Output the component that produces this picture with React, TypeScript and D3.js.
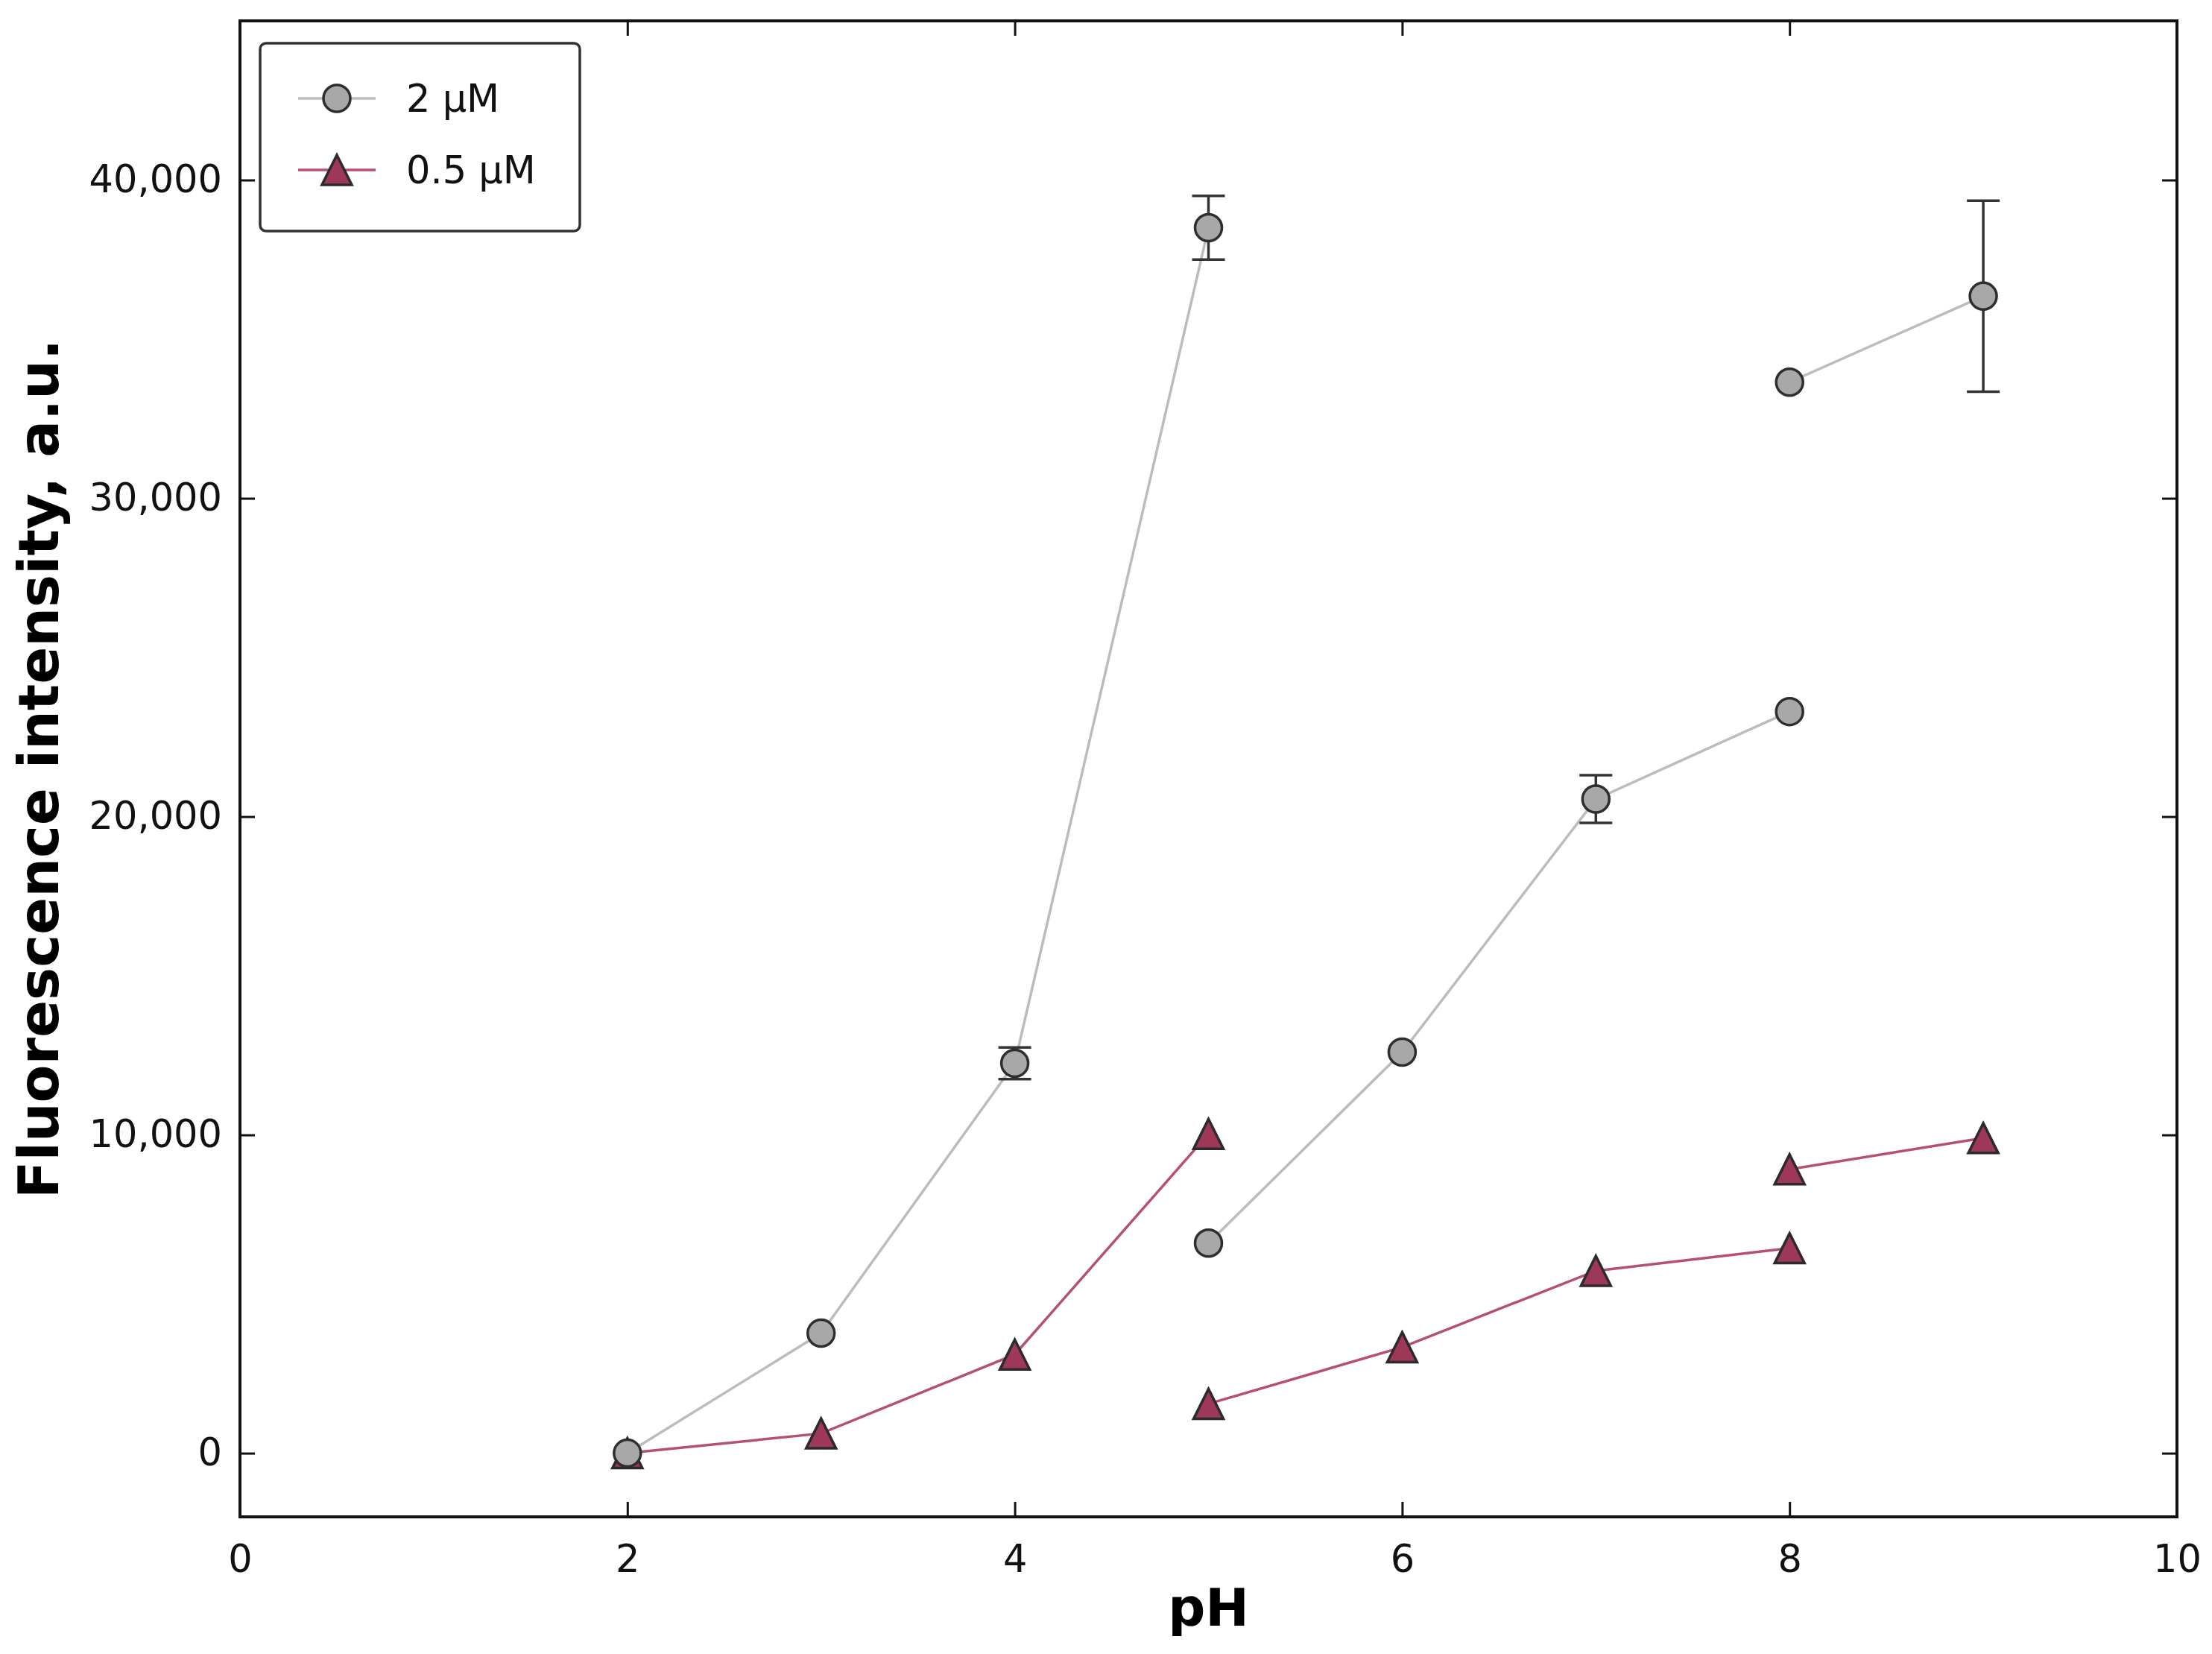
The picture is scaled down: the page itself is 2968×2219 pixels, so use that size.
import { useEffect, useRef } from "react";
import * as d3 from "d3";

const xTicks = [0, 2, 4, 6, 8, 10];
const yTicks = [0, 10000, 20000, 30000, 40000];

// 2 µM — three separate runs (x = pH)
const phHighA = [2, 3, 4, 5];
const valHighA = [0, 3770, 12250, 38500];
const errHighA = [0, 0, 500, 1000];
const phHighB = [5, 6, 7, 8];
const valHighB = [6600, 12600, 20550, 23300];
const errHighB = [0, 0, 750, 0];
const phHighC = [8, 9];
const valHighC = [33650, 36350];
const errHighC = [0, 3000];

// 0.5 µM — three separate runs
const phLowA = [2, 3, 4, 5];
const valLowA = [0, 620, 3100, 10030];
const phLowB = [5, 6, 7, 8];
const valLowB = [1550, 3330, 5730, 6440];
const phLowC = [8, 9];
const valLowC = [8920, 9900];

const legendLabels = ["2 µM", "0.5 µM"];

const W = 2968;
const H = 2219;
const FONT = "'DejaVu Sans', sans-serif";

type Pt = { x: number; y: number; e: number };

const zip = (xs: number[], ys: number[], es?: number[]): Pt[] =>
  xs.map((x, i) => ({ x, y: ys[i], e: es ? es[i] : 0 }));

export default function App() {
  const svgRef = useRef<SVGSVGElement | null>(null);

  useEffect(() => {
    if (!svgRef.current) return;
    const svg = d3.select(svgRef.current);
    svg.selectAll("*").remove();

    const left = 322;
    const right = 2921;
    const top = 28;
    const bottom = 2035;
    const tickLen = 20;

    const x = d3.scaleLinear().domain([0, 10]).range([left, right]);
    const y = d3.scaleLinear().domain([-2000, 45000]).range([bottom, top]);

    svg.append("rect").attr("width", W).attr("height", H).attr("fill", "#fff");

    const line = d3
      .line<Pt>()
      .x((d) => x(d.x))
      .y((d) => y(d.y));

    const circleR = 18;
    const triHalf = 20;
    const triPath = `M0,${-triHalf}L${triHalf},${triHalf}L${-triHalf},${triHalf}Z`;

    const lowRuns = [
      zip(phLowA, valLowA),
      zip(phLowB, valLowB),
      zip(phLowC, valLowC),
    ];
    const highRuns = [
      zip(phHighA, valHighA, errHighA),
      zip(phHighB, valHighB, errHighB),
      zip(phHighC, valHighC, errHighC),
    ];

    const plot = svg.append("g");

    // 0.5 µM series
    lowRuns.forEach((run) => {
      plot
        .append("path")
        .datum(run)
        .attr("fill", "none")
        .attr("stroke", "#b5516d")
        .attr("stroke-width", 3.5)
        .attr("d", line);
    });
    lowRuns.forEach((run) => {
      plot
        .selectAll(null)
        .data(run)
        .enter()
        .append("path")
        .attr("d", triPath)
        .attr("transform", (d) => `translate(${x(d.x)},${y(d.y)})`)
        .attr("fill", "#9e3858")
        .attr("stroke", "#2b2b2b")
        .attr("stroke-width", 3.5)
        .attr("stroke-linejoin", "miter");
    });

    // 2 µM series
    highRuns.forEach((run) => {
      plot
        .append("path")
        .datum(run)
        .attr("fill", "none")
        .attr("stroke", "#bcbcbc")
        .attr("stroke-width", 3.5)
        .attr("d", line);
    });
    highRuns.forEach((run) => {
      const eb = run.filter((d) => d.e > 0);
      const g = plot.selectAll(null).data(eb).enter().append("g");
      g.append("line")
        .attr("x1", (d) => x(d.x))
        .attr("x2", (d) => x(d.x))
        .attr("y1", (d) => y(d.y - d.e))
        .attr("y2", (d) => y(d.y + d.e))
        .attr("stroke", "#333")
        .attr("stroke-width", 3.5);
      [1, -1].forEach((s) => {
        g.append("line")
          .attr("x1", (d) => x(d.x) - 22)
          .attr("x2", (d) => x(d.x) + 22)
          .attr("y1", (d) => y(d.y + s * d.e))
          .attr("y2", (d) => y(d.y + s * d.e))
          .attr("stroke", "#333")
          .attr("stroke-width", 3.5);
      });
    });
    highRuns.forEach((run) => {
      plot
        .selectAll(null)
        .data(run)
        .enter()
        .append("circle")
        .attr("cx", (d) => x(d.x))
        .attr("cy", (d) => y(d.y))
        .attr("r", circleR)
        .attr("fill", "#a8a8a8")
        .attr("stroke", "#2e2e2e")
        .attr("stroke-width", 3.5);
    });

    // AXES (ticks inward on all four sides)
    const fmt = d3.format(",");
    const styleAxis = (g: d3.Selection<SVGGElement, unknown, null, undefined>) => {
      g.select(".domain").remove();
      g.selectAll("line").attr("stroke", "#111").attr("stroke-width", 3);
      g.selectAll("text")
        .attr("fill", "#111")
        .style("font-family", FONT)
        .style("font-size", "51px");
    };

    svg
      .append("g")
      .attr("transform", `translate(0,${bottom})`)
      .call(
        d3
          .axisBottom(x)
          .tickValues(xTicks)
          .tickSize(-tickLen)
          .tickPadding(tickLen + 18)
          .tickFormat((d) => String(d)),
      )
      .call(styleAxis);

    svg
      .append("g")
      .attr("transform", `translate(0,${top})`)
      .call(d3.axisTop(x).tickValues(xTicks).tickSize(-tickLen).tickFormat(() => ""))
      .call(styleAxis);

    svg
      .append("g")
      .attr("transform", `translate(${left},0)`)
      .call(
        d3
          .axisLeft(y)
          .tickValues(yTicks)
          .tickSize(-tickLen)
          .tickPadding(tickLen + 4)
          .tickFormat((d) => fmt(d as number)),
      )
      .call(styleAxis);

    svg
      .append("g")
      .attr("transform", `translate(${right},0)`)
      .call(d3.axisRight(y).tickValues(yTicks).tickSize(-tickLen).tickFormat(() => ""))
      .call(styleAxis);

    // frame
    svg
      .append("rect")
      .attr("x", left)
      .attr("y", top)
      .attr("width", right - left)
      .attr("height", bottom - top)
      .attr("fill", "none")
      .attr("stroke", "#111")
      .attr("stroke-width", 4);

    // axis titles
    svg
      .append("text")
      .attr("x", (left + right) / 2)
      .attr("y", 2181)
      .attr("text-anchor", "middle")
      .style("font-family", FONT)
      .style("font-weight", "bold")
      .style("font-size", "70px")
      .attr("fill", "#000")
      .text("pH");

    svg
      .append("text")
      .attr("transform", `translate(78,${(top + bottom) / 2}) rotate(-90)`)
      .attr("text-anchor", "middle")
      .style("font-family", FONT)
      .style("font-weight", "bold")
      .style("font-size", "74px")
      .attr("fill", "#000")
      .text("Fluorescence intensity, a.u.");

    // LEGEND
    const lg = svg.append("g");
    lg.append("rect")
      .attr("x", 349)
      .attr("y", 58)
      .attr("width", 429)
      .attr("height", 252)
      .attr("rx", 8)
      .attr("fill", "#fff")
      .attr("stroke", "#333")
      .attr("stroke-width", 3.5);

    const rows = [132, 228];
    legendLabels.forEach((label, i) => {
      const ry = rows[i];
      lg.append("line")
        .attr("x1", 400)
        .attr("x2", 504)
        .attr("y1", ry)
        .attr("y2", ry)
        .attr("stroke", i === 0 ? "#bcbcbc" : "#b5516d")
        .attr("stroke-width", 3.5);
      if (i === 0) {
        lg.append("circle")
          .attr("cx", 452)
          .attr("cy", ry)
          .attr("r", circleR)
          .attr("fill", "#a8a8a8")
          .attr("stroke", "#2e2e2e")
          .attr("stroke-width", 3.5);
      } else {
        lg.append("path")
          .attr("d", triPath)
          .attr("transform", `translate(452,${ry})`)
          .attr("fill", "#9e3858")
          .attr("stroke", "#2b2b2b")
          .attr("stroke-width", 3.5);
      }
      lg.append("text")
        .attr("x", 545)
        .attr("y", ry)
        .attr("dy", "0.35em")
        .style("font-family", FONT)
        .style("font-size", "51px")
        .attr("fill", "#111")
        .text(label);
    });
  }, []);

  return (
    <svg
      ref={svgRef}
      width={W}
      height={H}
      style={{ position: "absolute", left: 0, top: 0, display: "block" }}
    />
  );
}
